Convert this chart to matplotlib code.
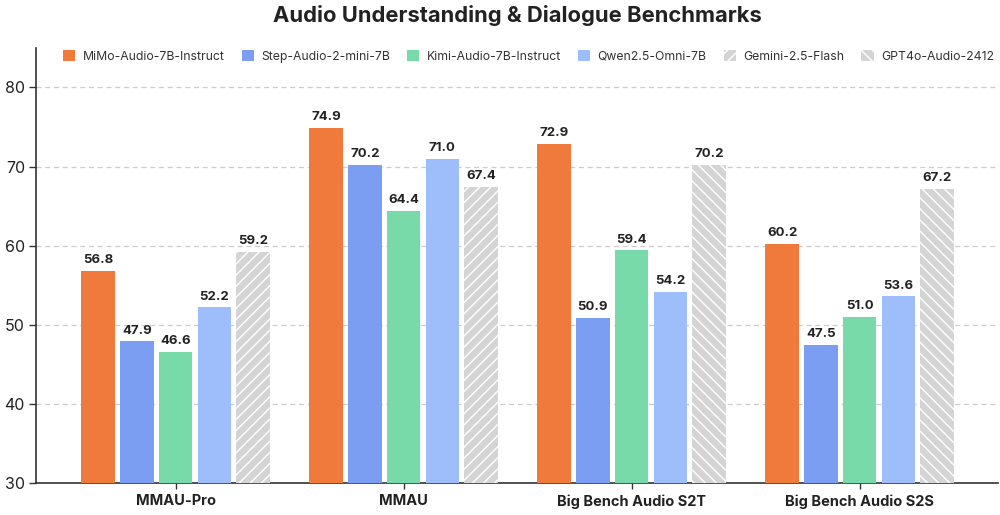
import matplotlib
matplotlib.use("Agg")
import matplotlib.pyplot as plt
from matplotlib.patches import Patch
import numpy as np

plt.rcParams['font.family'] = ['Inter', 'DejaVu Sans']
plt.rcParams['hatch.linewidth'] = 1.0

categories = ["MMAU-Pro", "MMAU", "Big Bench Audio S2T", "Big Bench Audio S2S"]
series_names = ["MiMo-Audio-7B-Instruct", "Step-Audio-2-mini-7B", "Kimi-Audio-7B-Instruct",
                "Qwen2.5-Omni-7B", "Gemini-2.5-Flash", "GPT4o-Audio-2412"]
mimo = [56.8, 74.9, 72.9, 60.2]
step = [47.9, 70.2, 50.9, 47.5]
kimi = [46.6, 64.4, 59.4, 51.0]
qwen = [52.2, 71.0, 54.2, 53.6]
gemini = [59.2, 67.4, None, None]
gpt4o = [None, None, 70.2, 67.2]
series_values = [mimo, step, kimi, qwen, gemini, gpt4o]
yticks = [30, 40, 50, 60, 70, 80]

colors = ["#F07A3C", "#7B9EF3", "#78D9A9", "#9DBEFA", "#D4D4D4", "#D4D4D4"]
hatches = [None, None, None, None, "///", "\\\\\\"]

fig = plt.figure(figsize=(10, 5.15), dpi=100)
ax = fig.add_axes([0.036, 0.062, 0.962, 0.845])

pitch = 0.17
width = 0.147
for g, cat in enumerate(categories):
    present = [s for s in range(len(series_names)) if series_values[s][g] is not None]
    n = len(present)
    for k, s in enumerate(present):
        x = g + (k - (n - 1) / 2) * pitch
        v = series_values[s][g]
        if hatches[s]:
            ax.bar(x, v - 30, width, bottom=30, color=colors[s], edgecolor="white",
                   linewidth=0, hatch=hatches[s], zorder=3)
        else:
            ax.bar(x, v - 30, width, bottom=30, color=colors[s], linewidth=0, zorder=3)
        ax.text(x, v + 0.6, f"{v:.1f}", ha="center", va="bottom", fontsize=9.5,
                fontweight="bold", color="#222222", zorder=4)

ax.set_xlim(-0.612, 3.607)
ax.set_ylim(30, 85)
ax.set_yticks(yticks)
ax.set_xticks(range(len(categories)))
ax.set_xticklabels(categories, fontsize=10.5, fontweight="bold", color="#222222")
ax.tick_params(axis="y", labelsize=11.5, length=5, width=1, color="#333333", labelcolor="#222222", pad=3)
ax.tick_params(axis="x", length=4, width=1, color="#333333", pad=4)
ax.grid(axis="y", linestyle=(0, (4, 3)), color="#CCCCCC", linewidth=0.9, zorder=0)
for sp in ["top", "right"]:
    ax.spines[sp].set_visible(False)
ax.spines["left"].set_color("#333333")
ax.spines["bottom"].set_color("#333333")
ax.spines["left"].set_linewidth(1.2)
ax.spines["bottom"].set_linewidth(1.2)

handles = []
for s in range(len(series_names)):
    if hatches[s]:
        handles.append(Patch(facecolor=colors[s], edgecolor="white", linewidth=0, hatch=hatches[s]))
    else:
        handles.append(Patch(facecolor=colors[s], linewidth=0))
ax.legend(handles, series_names, loc="upper center", bbox_to_anchor=(0.512, 1.02), ncol=6,
          frameon=False, fontsize=8.8, handlelength=1.0, handleheight=1.0,
          handletextpad=0.6, columnspacing=1.4, labelcolor="#333333")

fig.suptitle("Audio Understanding & Dialogue Benchmarks", x=0.517, y=0.99, va="top",
             fontsize=15.8, fontweight="bold", color="#222222")

fig.savefig("out.png", dpi=100)
